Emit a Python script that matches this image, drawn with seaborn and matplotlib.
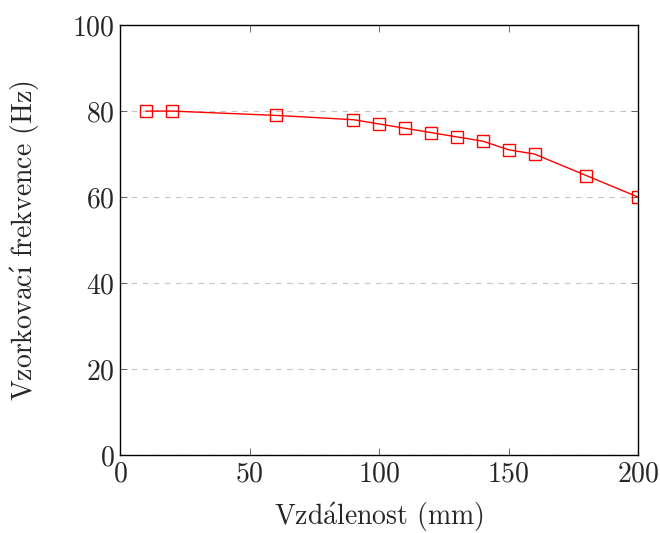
import matplotlib
matplotlib.use("Agg")
import matplotlib.pyplot as plt
import seaborn as sns
import pandas as pd

# vzdalenost (mm) vs. vzorkovaci frekvence (Hz)
distance = [10, 20, 60, 90, 100, 110, 120, 130, 140, 150, 160, 180, 200]
frequency = [80, 80, 79, 78, 77, 76, 75, 74, 73, 71, 70, 65, 60]
x_ticks = [0, 50, 100, 150, 200]
y_ticks = [0, 20, 40, 60, 80, 100]

data = pd.DataFrame({"distance": distance, "frequency": frequency})

sns.set_style("ticks")
plt.rcParams["font.family"] = ["cmr10", "DejaVu Serif"]
plt.rcParams["axes.formatter.use_mathtext"] = True
plt.rcParams["mathtext.fontset"] = "cm"

fig = plt.figure(figsize=(6.6, 5.33), dpi=100)
ax = fig.add_axes([0.182, 0.146, 0.785, 0.807])

sns.lineplot(data=data, x="distance", y="frequency", ax=ax, color="red",
             linewidth=1.0, marker="s", markersize=8, markerfacecolor="none",
             markeredgecolor="red", markeredgewidth=1.0)

ax.set_xlim(0, 200)
ax.set_ylim(0, 100)
ax.set_xticks(x_ticks)
ax.set_yticks(y_ticks)
ax.yaxis.grid(True, linestyle=(0, (5, 5)), color="#c4c4c4", linewidth=0.8)
ax.set_axisbelow(True)
ax.tick_params(direction="in", top=True, right=True, length=5, width=0.6,
               labelsize=20, color="#555555", pad=4)
for s in ax.spines.values():
    s.set_linewidth(1.0)
    s.set_color("black")

# accents through mathtext so they come out upright
ax.set_xlabel(r"Vzd$\mathrm{\acute{a}}$lenost (mm)", fontsize=20, labelpad=9)
ax.set_ylabel("Vzorkovac$\\mathrm{\\acute{\u0131}}$ frekvence (Hz)", fontsize=20,
              labelpad=22)

fig.savefig("out.png", dpi=100)
